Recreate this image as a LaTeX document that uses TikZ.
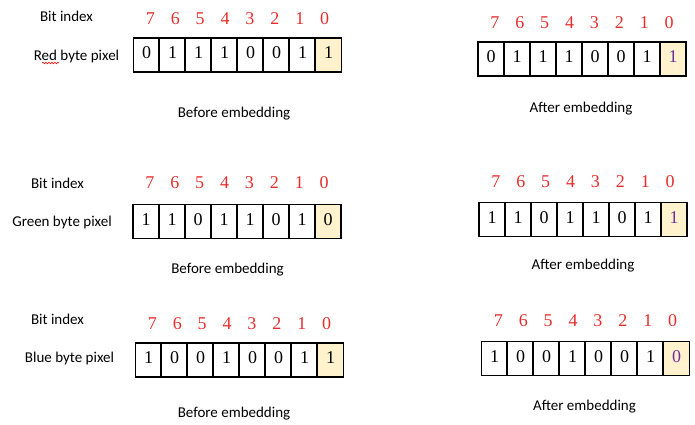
\documentclass[tikz,border=0pt]{standalone}
\usepackage{fontspec}
\setmainfont{Liberation Serif}
\newfontfamily\etiqfont{Carlito}
\usetikzlibrary{positioning,matrix,decorations.pathmorphing}
\definecolor{rojoindice}{RGB}{232,45,45}
\definecolor{celdafondo}{RGB}{255,242,204}
\definecolor{morado}{RGB}{112,48,160}

\begin{document}
\begin{tikzpicture}[x=1pt, y=-1pt,
        celda/.style={draw=black, line width=1.1pt, minimum width=26pt, minimum height=34pt,
            inner sep=0pt, text height=13pt, text depth=6pt, font=\fontsize{18}{20}\selectfont},
        byte/.style={matrix of nodes, column sep=-1.1pt, inner sep=0pt, nodes={celda}},
        indice/.style={matrix of nodes, column sep=-1.1pt, inner sep=0pt,
            nodes={minimum width=26pt, inner sep=0pt, text height=13pt, text depth=0pt,
                text=rojoindice, font=\fontsize{18}{20}\selectfont}},
        amarilla/.style={fill=celdafondo},
        cambiado/.style={fill=celdafondo, text=morado},
        etiq/.style={anchor=base, inner sep=0pt, font=\etiqfont\fontsize{15}{18}\selectfont}
    ]
        \useasboundingbox (0,0) rectangle (695,424);

        % Bytes
        \matrix[byte] (rojoantes) at (237.5,55) {0 & 1 & 1 & 1 & 0 & 0 & 1 & |[amarilla]| 1 \\};
        \matrix[byte] (rojodespues) at (582,59) {0 & 1 & 1 & 1 & 0 & 0 & 1 & |[cambiado]| 1 \\};
        \matrix[byte] (verdeantes) at (237,221.5) {1 & 1 & 0 & 1 & 1 & 0 & 1 & |[amarilla]| 0 \\};
        \matrix[byte] (verdedespues) at (583,219.5) {1 & 1 & 0 & 1 & 1 & 0 & 1 & |[cambiado]| 1 \\};
        \matrix[byte] (azulantes) at (239.5,360) {1 & 0 & 0 & 1 & 0 & 0 & 1 & |[amarilla]| 1 \\};
        \matrix[byte] (azuldespues) at (585.5,358.5) {1 & 0 & 0 & 1 & 0 & 0 & 1 & |[cambiado]| 0 \\};

        % Separadores
        \foreach \b in {rojoantes,rojodespues,verdeantes,verdedespues,azulantes,azuldespues}
            \foreach \c in {2,...,8}
                \draw[line width=1.1pt] (\b-1-\c.north west) -- (\b-1-\c.south west);

        % Indices de bit
        \matrix[indice, above=13pt of rojoantes] (irojoantes) {7 & 6 & 5 & 4 & 3 & 2 & 1 & 0 \\};
        \matrix[indice, above=13pt of rojodespues] (irojodespues) {7 & 6 & 5 & 4 & 3 & 2 & 1 & 0 \\};
        \matrix[indice, above=15pt of verdeantes] (iverdeantes) {7 & 6 & 5 & 4 & 3 & 2 & 1 & 0 \\};
        \matrix[indice, above=14pt of verdedespues] (iverdedespues) {7 & 6 & 5 & 4 & 3 & 2 & 1 & 0 \\};
        \matrix[indice, above=13pt of azulantes] (iazulantes) {7 & 6 & 5 & 4 & 3 & 2 & 1 & 0 \\};
        \matrix[indice, above=14pt of azuldespues] (iazuldespues) {7 & 6 & 5 & 4 & 3 & 2 & 1 & 0 \\};

        % Etiquetas
        \node[etiq] (bit1) at (66.5,21) {Bit index};
        \node[etiq] (rojo) at (76.5,60) {Red byte pixel};
        \node[etiq] (bit2) at (57.5,188) {Bit index};
        \node[etiq] (verde) at (62,226.5) {Green byte pixel};
        \node[etiq] (bit3) at (57.5,324) {Bit index};
        \node[etiq] (azul) at (69.5,362.5) {Blue byte pixel};

        \node[etiq] (antes1) at (234,117) {Before embedding};
        \node[etiq] (despues1) at (581,112) {After embedding};
        \node[etiq] (antes2) at (227.5,273) {Before embedding};
        \node[etiq] (despues2) at (583,269) {After embedding};
        \node[etiq] (antes3) at (234,417) {Before embedding};
        \node[etiq] (despues3) at (584.5,410) {After embedding};

        % Subrayado ortografico
        \draw[red, line width=0.6pt, decorate, decoration={snake, amplitude=0.8pt, segment length=3pt}]
            (42,63) -- (59,63);
    \end{tikzpicture}
\end{document}
